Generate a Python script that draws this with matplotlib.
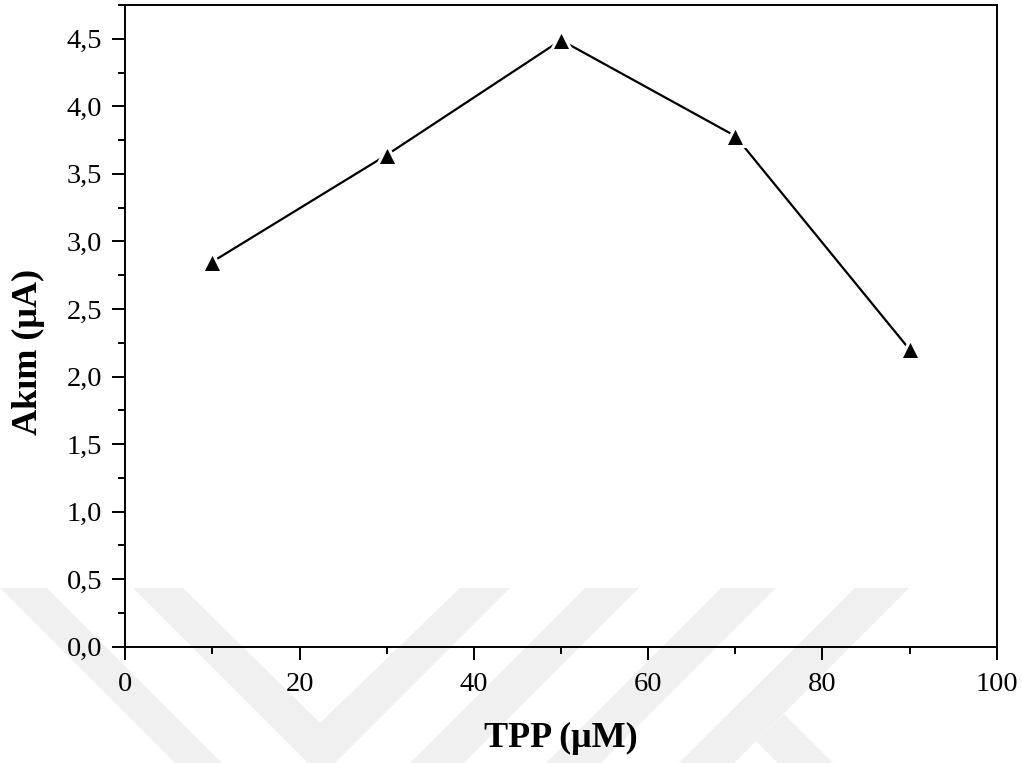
import matplotlib
matplotlib.use('Agg')
import matplotlib.pyplot as plt
from matplotlib.patches import Polygon
from matplotlib.ticker import MultipleLocator, FuncFormatter

# TPP concentration (uM) vs. peak current (uA)
tpp = [10, 30, 50, 70, 90]
akim = [2.85, 3.64, 4.49, 3.78, 2.20]

plt.rcParams['font.family'] = ['Liberation Serif', 'DejaVu Serif']

W, H = 1022, 763
fig = plt.figure(figsize=(W / 100, H / 100), dpi=100)
fig.patch.set_facecolor('white')

# faint chevron watermark along the bottom (pixel outlines, y measured from top)
bands = [
    [(0, 588), (47, 588), (222, 763), (175, 763)],
    [(133, 588), (183, 588), (320, 723), (460, 588), (510, 588), (335, 763), (308, 763)],
    [(585, 588), (639, 588), (464, 763), (410, 763)],
    [(721, 588), (776, 588), (601, 763), (546, 763)],
    [(855, 588), (909, 588), (734, 763), (679, 763)],
    [(756, 741), (784, 714), (833, 763), (778, 763)],
]
for b in bands:
    pts = [(px / W, 1 - py / H) for px, py in b]
    fig.patches.append(Polygon(pts, closed=True, transform=fig.transFigure,
                               facecolor='#f0f0f0', edgecolor='none', zorder=0))

ax = fig.add_axes([125.3 / W, 1 - 646.7 / H, (996.7 - 125.3) / W, (646.7 - 5) / H])
ax.set_zorder(1)
ax.patch.set_visible(False)

ax.plot(tpp, akim, color='black', lw=1.6, marker='^', ms=15,
        mfc='black', mec='white', mew=2.2, zorder=3, clip_on=False)

ax.set_xlim(0, 100)
ax.set_ylim(0, 4.75)

ax.xaxis.set_major_locator(MultipleLocator(20))
ax.xaxis.set_minor_locator(MultipleLocator(10))
ax.yaxis.set_major_locator(MultipleLocator(0.5))
ax.yaxis.set_minor_locator(MultipleLocator(0.25))
ax.yaxis.set_major_formatter(FuncFormatter(lambda v, p: f"{v:.1f}".replace('.', ',')))

for s in ax.spines.values():
    s.set_linewidth(1.4)

ax.tick_params(which='both', direction='out', top=False, right=False,
               width=1.4, labelsize=20.5)
ax.tick_params(which='major', length=9.5, pad=7)
ax.tick_params(axis='x', which='major', pad=9)
ax.tick_params(which='minor', length=5)

ax.set_xlabel('TPP (μM)', fontsize=26, fontweight='bold', va='top')
ax.xaxis.set_label_coords(0.5, -0.117)
ax.set_ylabel('Akım (μA)', fontsize=26, fontweight='bold')
ax.yaxis.set_label_coords(-0.092, 0.46)

fig.savefig('out.png', dpi=100, facecolor='white')
